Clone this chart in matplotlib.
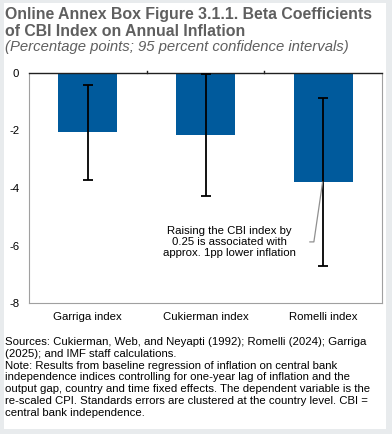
import numpy as np
import matplotlib
matplotlib.use('Agg')
import matplotlib.pyplot as plt
from matplotlib.patches import Rectangle

plt.rcParams['font.family'] = ['Liberation Sans', 'DejaVu Sans']

# Data
categories = ['Garriga index', 'Cukierman index', 'Romelli index']
coef = [-2.07, -2.17, -3.80]
ci_upper = [-0.42, -0.06, -0.89]
ci_lower = [-3.71, -4.28, -6.71]
y_ticks = [0, -2, -4, -6, -8]

BAR_COLOR = '#005a9c'
TITLE_GRAY = '#5f5f5f'

W, H = 392, 434
fig = plt.figure(figsize=(W / 100, H / 100), dpi=100)
fig.patch.set_facecolor('#e8ebed')

# white panel behind everything
fig.patches.append(Rectangle((4 / W, 1 - 429 / H), 382 / W, 426 / H,
                             transform=fig.transFigure, facecolor='white',
                             edgecolor='none', zorder=-10))

def fy(py):
    return 1 - py / H

fig.text(5 / W, fy(19), 'Online Annex Box Figure 3.1.1. Beta Coefficients',
         fontsize=11.4, fontweight='bold', color=TITLE_GRAY, va='baseline')
fig.text(5 / W, fy(35.5), 'of CBI Index on Annual Inflation',
         fontsize=11.4, fontweight='bold', color=TITLE_GRAY, va='baseline')
fig.text(5 / W, fy(50.5), '(Percentage points; 95 percent confidence intervals)',
         fontsize=10.7, fontstyle='italic', color=TITLE_GRAY, va='baseline')

ax = fig.add_axes([29 / W, fy(303.3), (382 - 29) / W, (303.3 - 72.7) / H])
x = np.arange(len(categories))
ax.bar(x, coef, width=0.5, color=BAR_COLOR, zorder=2)

err_low = np.array(coef) - np.array(ci_lower)
err_high = np.array(ci_upper) - np.array(coef)
ax.errorbar(x, coef, yerr=[err_low, err_high], fmt='none', ecolor='black',
            elinewidth=1.3, capsize=3.5, capthick=1.3, zorder=3)

ax.set_xlim(-0.5, 2.5)
ax.set_ylim(-8, 0)
ax.set_yticks(y_ticks)
ax.set_yticklabels([str(t) for t in y_ticks])
ax.set_xticks(x)
ax.set_xticklabels(categories)
ax.tick_params(axis='x', length=0, labelsize=8.2, pad=6)
ax.tick_params(axis='y', length=0, labelsize=8.2, pad=7)
for side in ['left', 'bottom', 'right']:
    ax.spines[side].set_color('#a0a0a0')
    ax.spines[side].set_linewidth(0.8)
ax.spines['top'].set_color('#202020')
ax.spines['top'].set_linewidth(1.0)

# category separator ticks on the zero line
for b in [0.5, 1.5]:
    ax.plot([b, b], [0, 0.06], color='#202020', lw=1.0, clip_on=False)

# annotation leader line and text
ax.plot([1.887, 1.921, 1.995], [-5.87, -5.87, coef[2]], color='#909090',
        lw=0.9, zorder=4)
ax.text(1.20, -5.88, 'Raising the CBI index by\n0.25 is associated with\napprox. 1pp lower inflation',
        ha='center', va='center', fontsize=8.2, linespacing=1.1)

notes = ('Sources: Cukierman, Web, and Neyapti (1992); Romelli (2024); Garriga\n'
         '(2025); and IMF staff calculations.\n'
         'Note: Results from baseline regression of inflation on central bank\n'
         'independence indices controlling for one-year lag of inflation and the\n'
         'output gap, country and time fixed effects. The dependent variable is the\n'
         're-scaled CPI. Standards errors are clustered at the country level. CBI =\n'
         'central bank independence.')
fig.text(5 / W, fy(337), notes, fontsize=8.2, va='top', linespacing=1.22)

fig.savefig('out.png', dpi=100, facecolor=fig.get_facecolor())
